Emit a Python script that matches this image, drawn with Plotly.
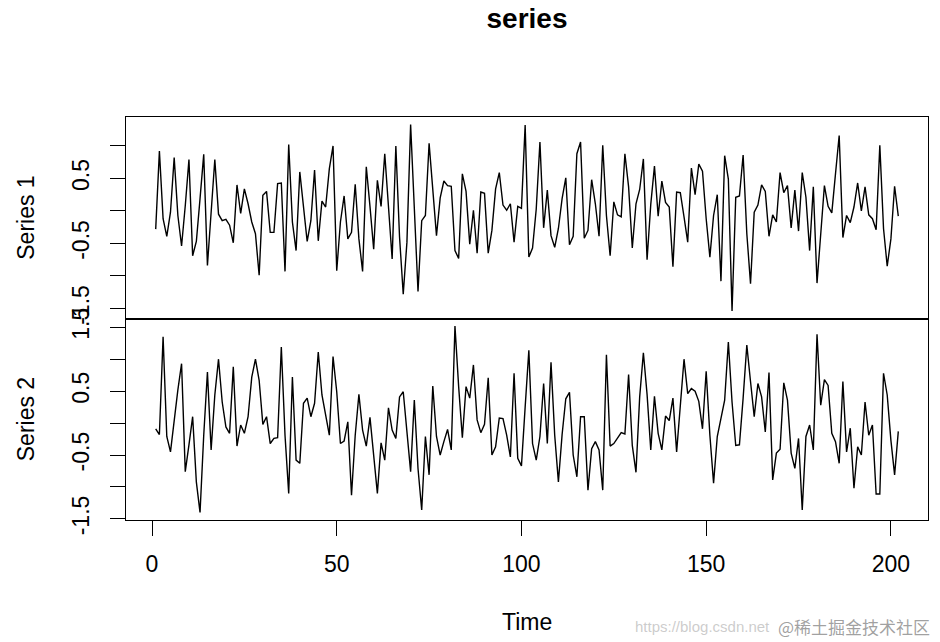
import plotly.graph_objects as go
from plotly.subplots import make_subplots

time = list(range(1, 203))

series_1 = [
    -0.28, 0.92, -0.12, -0.39, -0.02, 0.82, -0.07, -0.54, 0.08, 0.79,
    -0.69, -0.47, 0.19, 0.87, -0.84, 0.03, 0.79, -0.05, -0.15, -0.13,
    -0.22, -0.49, 0.40, -0.04, 0.34, 0.11, -0.17, -0.35, -0.99, 0.24,
    0.30, -0.33, -0.33, 0.42, 0.43, -0.93, 1.02, -0.17, -0.61, 0.60,
    0.08, -0.47, -0.15, 0.63, -0.46, 0.15, 0.06, 0.65, 1.00, -0.92,
    -0.17, 0.23, -0.43, -0.33, 0.41, -0.43, -0.93, 0.68, 0.07, -0.59,
    0.47, 0.07, 0.88, 0.09, -0.74, 1.00, -0.40, -1.28, -0.48, 1.33,
    0.03, -1.24, -0.15, -0.07, 1.04, 0.39, -0.38, 0.20, 0.46, 0.39,
    0.38, -0.61, -0.73, 0.57, 0.30, -0.51, 0.01, -0.65, 0.29, 0.27,
    -0.65, -0.30, 0.34, 0.59, 0.09, 0.01, 0.11, -0.48, 0.07, 0.04,
    1.32, -0.71, -0.57, 0.03, 1.06, -0.26, 0.32, -0.38, -0.56, -0.27,
    0.19, 0.51, -0.52, -0.39, 0.88, 1.06, -0.42, -0.30, 0.48, 0.11,
    -0.39, 1.01, -0.07, -0.69, 0.14, -0.06, -0.09, 0.88, 0.37, -0.57,
    0.11, 0.33, 0.80, -0.75, 0.10, 0.69, -0.08, 0.46, 0.13, 0.06,
    -0.86, 0.29, 0.28, -0.09, -0.48, 0.66, 0.25, 0.72, 0.61, -0.12,
    -0.71, -0.07, 0.25, -1.08, 0.85, 0.49, -1.54, 0.21, 0.23, 0.86,
    -0.35, -1.12, -0.02, 0.09, 0.40, 0.30, -0.39, -0.06, -0.17, 0.59,
    0.28, 0.39, -0.26, 0.32, -0.31, 0.59, 0.21, -0.61, 0.37, -1.11,
    -0.33, 0.39, 0.07, -0.03, 0.57, 1.16, -0.41, -0.07, -0.18, 0.06,
    0.43, 0.00, 0.37, -0.06, -0.12, -0.29, 1.01, -0.27, -0.85, -0.43,
    0.38, -0.08,
]

series_2 = [
    -0.09, -0.18, 1.35, -0.21, -0.45, 0.05, 0.52, 0.93, -0.76, -0.34,
    0.10, -0.92, -1.40, -0.19, 0.80, -0.42, 0.44, 1.00, 0.33, -0.06,
    -0.16, 0.88, -0.36, -0.03, -0.16, 0.10, 0.72, 1.00, 0.67, -0.02,
    0.10, -0.32, -0.24, -0.23, 1.19, -0.19, -1.10, 0.72, -0.58, -0.63,
    0.31, 0.39, 0.10, 0.31, 1.11, 0.44, 0.10, -0.19, 1.04, 0.49,
    -0.32, -0.28, 0.02, -1.13, -0.19, 0.45, -0.11, -0.36, 0.09, -0.50,
    -1.10, -0.31, -0.58, 0.24, -0.11, -0.24, 0.41, 0.49, -0.11, -0.76,
    0.36, -0.71, -1.36, -0.21, -0.81, 0.58, -0.21, -0.50, -0.29, -0.10,
    -0.42, 1.52, 0.57, -0.23, 0.57, 0.39, 0.91, 0.05, -0.15, -0.02,
    0.71, -0.50, -0.37, 0.08, 0.07, -0.19, -0.53, 0.78, -0.55, -0.67,
    0.25, 1.14, -0.32, -0.58, -0.21, 0.62, -0.32, 0.95, -0.19, -0.92,
    -0.18, 0.38, 0.48, -0.50, -0.84, 0.10, 0.10, -1.05, -0.40, -0.29,
    -0.42, -1.05, 1.07, -0.36, -0.32, -0.23, -0.15, -0.17, 0.76, -0.35,
    -0.77, 0.41, 1.10, 0.45, -0.42, 0.42, -0.16, -0.42, 0.11, 0.04,
    0.39, -0.45, 0.23, 1.00, 0.46, 0.54, 0.50, 0.34, -0.09, 0.81,
    -0.19, -0.94, -0.21, 0.10, 0.36, 1.27, 0.33, -0.35, -0.34, 0.39,
    1.22, 0.65, 0.10, 0.62, 0.41, -0.14, 0.79, -0.89, -0.47, -0.41,
    0.63, 0.36, -0.47, -0.71, -0.24, -1.36, -0.21, -0.03, -0.42, 1.39,
    0.28, 0.68, 0.59, -0.16, -0.29, -0.63, 0.65, -0.45, -0.08, -1.02,
    -0.37, -0.50, 0.33, -0.19, -0.03, -1.11, -1.11, 0.78, 0.44, -0.27,
    -0.81, -0.13,
]

x_ticks = [0, 50, 100, 150, 200]
y1_ticks = [-1.5, -1.0, -0.5, 0.0, 0.5, 1.0]
y1_labels = ["-1.5", "", "-0.5", "", "0.5", ""]
y2_ticks = [-1.5, -1.0, -0.5, 0.0, 0.5, 1.0, 1.5]
y2_labels = ["-1.5", "", "-0.5", "", "0.5", "", "1.5"]


def r_range(vals):
    lo, hi = min(vals), max(vals)
    ext = 0.04 * (hi - lo)
    return [lo - ext, hi + ext]


FONT = "Liberation Sans, Arial, Helvetica, sans-serif"
FS = 23

# page has an 8px body margin; target screen coordinates are compensated
OFF = 8
W, H = 940 - OFF, 642 - OFF
L, R, T, B = 126 - OFF, 12, 117 - OFF, 122
pw = W - L - R
ph = H - T - B
plot_bottom = 520  # screen y of the lower panel's bottom edge


def py(screen_y):
    return -(screen_y - plot_bottom) / ph


def px(screen_x):
    return (screen_x - 126) / pw


fig = make_subplots(rows=2, cols=1, shared_xaxes=True, vertical_spacing=0)
fig.add_trace(go.Scatter(x=time, y=series_1, mode="lines",
                         line=dict(color="black", width=1.4), showlegend=False), row=1, col=1)
fig.add_trace(go.Scatter(x=time, y=series_2, mode="lines",
                         line=dict(color="black", width=1.4), showlegend=False), row=2, col=1)

xr = r_range(time)
axis_common = dict(showgrid=False, zeroline=False, showline=True, mirror=True,
                   linecolor="black", linewidth=1.2,
                   tickfont=dict(family=FONT, size=FS, color="black"))

fig.update_xaxes(range=xr, **axis_common)
fig.update_xaxes(showticklabels=False, ticks="", row=1, col=1)
fig.update_xaxes(tickmode="array", tickvals=x_ticks, ticks="outside", ticklen=15,
                 tickwidth=1.2, tickcolor="black", ticklabelstandoff=8, row=2, col=1)

fig.update_yaxes(range=r_range(series_1), tickmode="array", tickvals=y1_ticks,
                 ticktext=y1_labels, ticks="outside", ticklen=15, tickwidth=1.2,
                 tickcolor="black", tickangle=-90, ticklabelstandoff=12,
                 row=1, col=1, **axis_common)
fig.update_yaxes(range=r_range(series_2), tickmode="array", tickvals=y2_ticks,
                 ticktext=y2_labels, ticks="outside", ticklen=15, tickwidth=1.2,
                 tickcolor="black", tickangle=-90, ticklabelstandoff=12,
                 row=2, col=1, **axis_common)

ann = [
    dict(text="Series 1", x=px(26), y=0.75, xref="paper", yref="paper",
         textangle=-90, showarrow=False, xanchor="center", yanchor="middle",
         font=dict(family=FONT, size=FS, color="black")),
    dict(text="Series 2", x=px(26), y=0.25, xref="paper", yref="paper",
         textangle=-90, showarrow=False, xanchor="center", yanchor="middle",
         font=dict(family=FONT, size=FS, color="black")),
    dict(text="Time", x=0.5, y=py(622), xref="paper", yref="paper",
         showarrow=False, xanchor="center", yanchor="middle",
         font=dict(family=FONT, size=FS, color="black")),
    dict(text="https://blog.csdn.net", x=px(772), y=py(626),
         xref="paper", yref="paper", showarrow=False, xanchor="right", yanchor="middle",
         font=dict(family=FONT, size=15, color="rgba(170,170,170,0.6)")),
    dict(text="@稀土掘金技术社区", x=px(932), y=py(626),
         xref="paper", yref="paper", showarrow=False, xanchor="right", yanchor="middle",
         font=dict(family="Noto Sans CJK SC", size=17, color="rgba(130,130,130,0.75)")),
]

fig.update_layout(
    width=W, height=H,
    margin=dict(l=L, r=R, t=T, b=B),
    paper_bgcolor="white", plot_bgcolor="white",
    title=dict(text="<b>series</b>", x=0.5, xref="paper", y=1 - (18 - OFF) / H,
               yanchor="middle",
               font=dict(family=FONT, size=28, color="black")),
    annotations=ann,
)

fig.write_html("out.html")
